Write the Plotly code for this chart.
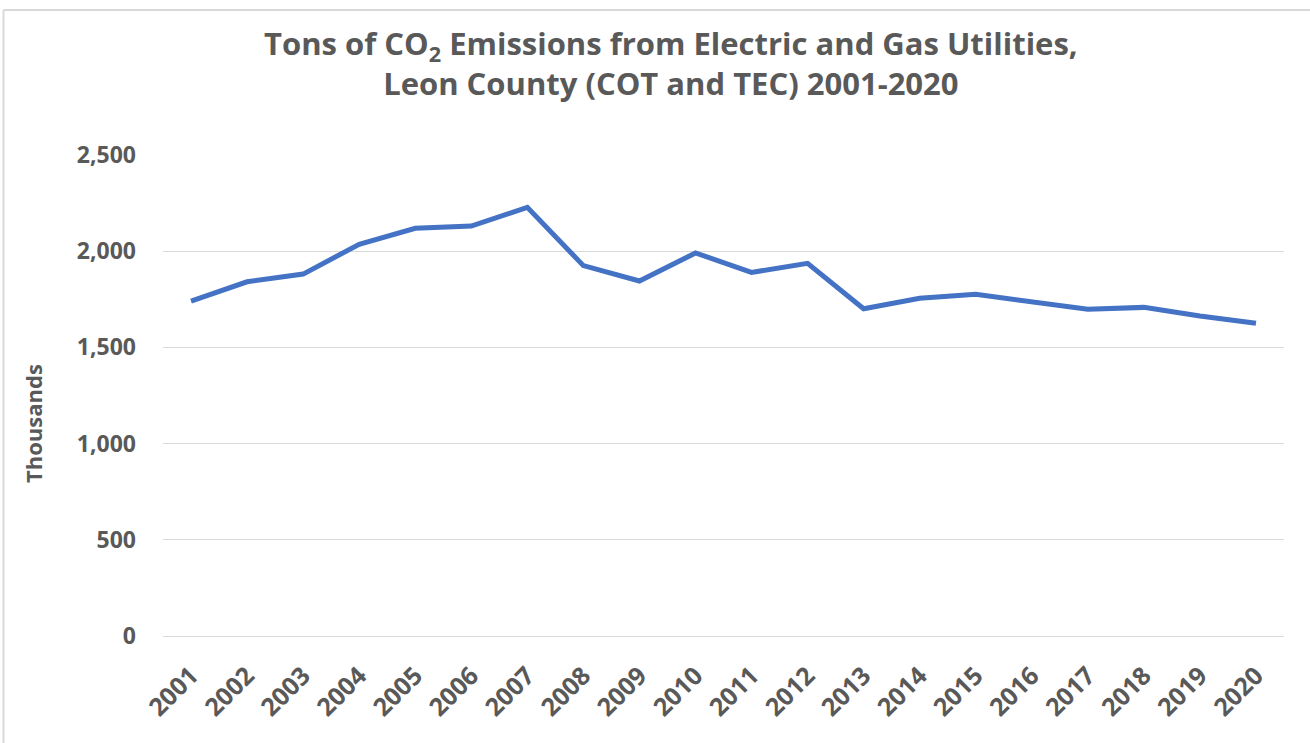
import plotly.graph_objects as go

years = [str(y) for y in range(2001, 2021)]
emissions = [1741, 1841, 1881, 2036, 2119, 2131, 2228, 1925, 1845, 1991,
             1890, 1937, 1701, 1755, 1776, 1738, 1698, 1708, 1663, 1625]
y_ticks = [0, 500, 1000, 1500, 2000, 2500]
y_tick_labels = ["0", "500", "1,000", "1,500", "2,000", "2,500"]

FONT = "Open Sans"
GREY = "#595959"
W, H = 1310, 743
L, R, T, B = 163, 26, 155, 107
PW, PH = W - L - R, H - T - B

def px_x(p):
    return (p - L) / PW

def px_y(p):
    return (H - B - p) / PH

fig = go.Figure()
fig.add_trace(go.Scatter(
    x=years, y=emissions, mode="lines",
    line=dict(color="#4472C4", width=5, shape="linear"),
    hoverinfo="x+y", showlegend=False,
))

fig.update_layout(
    width=W, height=H,
    margin=dict(l=L, r=R, t=T, b=B),
    paper_bgcolor="white", plot_bgcolor="white",
    font=dict(family=FONT, color=GREY),
    xaxis=dict(
        type="category", tickangle=-45, range=[-0.5, 19.5],
        tickfont=dict(size=25, color=GREY, family=FONT, weight="bold"),
        showgrid=False, showline=True, linecolor="#D9D9D9", linewidth=1,
        ticks="", ticklabelstandoff=14,
    ),
    yaxis=dict(
        range=[0, 2500], tickvals=y_ticks, ticktext=y_tick_labels,
        tickfont=dict(size=23, color=GREY, family=FONT, weight="bold"),
        showgrid=True, gridcolor="#D9D9D9", gridwidth=1,
        zeroline=False, showline=False, ticks="",
        ticklabelstandoff=26,
    ),
    annotations=[
        dict(text="<b>Tons of CO<sub>2</sub> Emissions from Electric and Gas Utilities,<br>Leon County (COT and TEC) 2001-2020</b>",
             xref="paper", yref="paper", x=px_x(671), y=px_y(20),
             xanchor="center", yanchor="top", showarrow=False,
             font=dict(size=31, color=GREY, family=FONT)),
        dict(text="<b>Thousands</b>", xref="paper", yref="paper",
             x=px_x(33), y=px_y(424), xanchor="center", yanchor="middle",
             textangle=-90, showarrow=False,
             font=dict(size=22, color=GREY, family=FONT)),
    ],
    shapes=[
        dict(type="line", xref="paper", yref="paper",
             x0=px_x(3.5), x1=px_x(3.5), y0=px_y(10), y1=px_y(H),
             line=dict(color="#D9D9D9", width=2)),
        dict(type="line", xref="paper", yref="paper",
             x0=px_x(3.5), x1=px_x(W), y0=px_y(10), y1=px_y(10),
             line=dict(color="#D9D9D9", width=2)),
    ],
)

fig.write_html("out.html", config={"displayModeBar": False},
               post_script="document.body.style.margin='0';document.body.style.overflow='hidden';")
